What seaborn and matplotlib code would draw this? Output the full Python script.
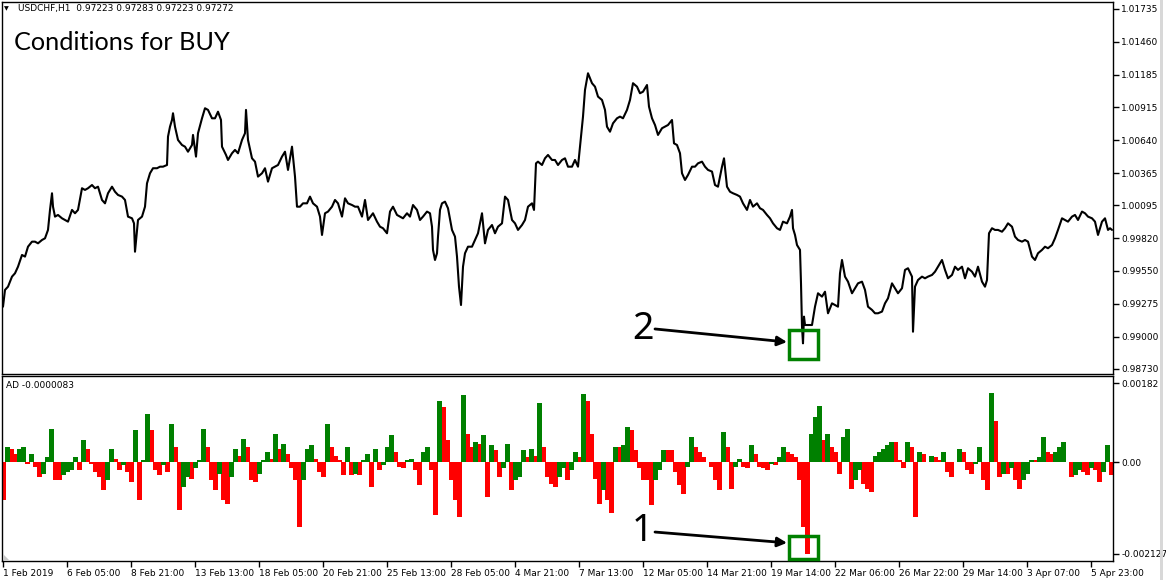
import numpy as np
import pandas as pd
import matplotlib
matplotlib.use("Agg")
import matplotlib.pyplot as plt
from matplotlib.patches import Rectangle, Polygon
import seaborn as sns

# ---------------- data ----------------
price_bar = [0, 2, 5, 9, 12, 15, 19, 22, 25, 29, 32, 35, 39, 42, 45, 47, 49, 50, 52, 55, 59, 62, 65, 69, 72, 75,
             79, 82, 85, 89, 92, 95, 99, 102, 105, 109, 112, 115, 119, 122, 125, 129, 131, 132, 135, 139, 142, 144,
             147, 150, 154, 157, 160, 164, 165, 167, 169, 170, 172, 175, 179, 182, 185, 189, 190, 193, 195, 199, 202,
             205, 209, 212, 215, 218, 219, 223, 225, 229, 232, 235, 239, 242, 243, 245, 249, 252, 255, 259, 262, 265,
             269, 272, 275, 279, 282, 285, 289, 292, 294, 297, 300, 304, 307, 310, 314, 317, 319, 322, 325, 329, 332,
             335, 339, 342, 345, 349, 352, 355, 359, 362, 365,
             370, 374, 377, 380, 384, 387, 390, 394, 397, 400, 404, 407, 410, 414, 417, 420, 424, 427, 429, 430, 432,
             434, 435, 437, 439, 442, 445, 449, 452, 454, 456, 458, 460, 462, 465, 469, 472, 475, 479, 482, 485, 489,
             492, 495, 499, 502, 505, 509, 512, 515, 519, 522, 525, 529, 531, 533, 535, 539, 542, 545, 549, 552, 555,
             559, 562, 565, 569, 572, 575, 578, 580, 582, 585, 589, 592, 595, 599, 602, 604, 607, 610, 614, 617, 620,
             624, 627, 630, 634, 637, 640, 644, 646, 649, 652, 655, 659, 662, 665, 669, 671, 674, 677, 679, 682, 685,
             689, 692, 695, 699, 702, 705, 709, 712, 715, 719, 721, 724, 727, 730, 734, 737, 740, 744,
             747, 750, 754, 757, 760, 764, 767, 770, 774, 777, 780, 784, 787, 789, 790, 792, 794, 795, 797, 798, 799,
             800, 801, 802, 805, 809, 812, 815, 819, 822, 825, 829, 832, 835, 837, 839, 842, 845, 849, 852, 855, 859,
             862, 865, 869, 872, 875, 879, 882, 885, 889, 892, 895, 899, 902, 905, 909, 910, 912, 915, 919, 922, 925,
             929, 932, 935, 939, 942, 945, 949, 952, 955, 959, 962, 965, 969, 972, 975, 979, 982, 984, 986, 989, 992,
             995, 999, 1002, 1005, 1009, 1012, 1015, 1019, 1022, 1025, 1029, 1032, 1035, 1039, 1042, 1045, 1049, 1052,
             1055, 1059, 1062, 1065, 1069, 1072, 1075, 1079, 1082, 1085, 1089, 1092, 1095, 1099, 1102, 1105, 1107, 1109]

price_close = [0.99249, 0.99389, 0.99416, 0.99500, 0.99528, 0.99583, 0.99681, 0.99667, 0.99750, 0.99792, 0.99792,
               0.99778, 0.99806, 0.99820, 0.99890, 1.00057, 1.00196, 1.00084, 1.00001, 1.00015, 0.99987, 0.99973,
               0.99959, 1.00057, 1.00029, 1.00057, 1.00238, 1.00224, 1.00238, 1.00265, 1.00238, 1.00251, 1.00140,
               1.00112, 1.00196, 1.00251, 1.00209, 1.00182, 1.00168, 1.00140, 1.00001, 0.99987, 0.99945, 0.99708,
               0.99973, 1.00001, 1.00084, 1.00279, 1.00363, 1.00405, 1.00405, 1.00418, 1.00418, 1.00432, 1.00669,
               1.00752, 1.00808, 1.00864, 1.00752, 1.00641, 1.00599, 1.00585, 1.00543, 1.00599, 1.00683, 1.00502,
               1.00697, 1.00822, 1.00906, 1.00892, 1.00822, 1.00822, 1.00877, 1.00808, 1.00585, 1.00516, 1.00474,
               1.00530, 1.00558, 1.00530, 1.00641, 1.00697, 1.00892, 1.00641, 1.00488, 1.00460, 1.00335, 1.00363,
               1.00405, 1.00293, 1.00405, 1.00418, 1.00432, 1.00502, 1.00543, 1.00391, 1.00585, 1.00335, 1.00084,
               1.00084, 1.00112, 1.00112, 1.00168, 1.00112, 1.00084, 1.00001, 0.99848, 1.00029, 1.00043, 1.00084,
               1.00140, 1.00112, 1.00001, 1.00154, 1.00112, 1.00098, 1.00084, 1.00084, 1.00001, 1.00140, 0.99973,
               1.00029, 0.99959, 0.99917, 0.99904, 0.99862, 1.00043, 1.00084, 1.00015, 1.00001, 0.99987, 1.00029,
               1.00001, 1.00098, 1.00057, 0.99973, 1.00001, 1.00043, 1.00029, 0.99917, 0.99723, 0.99639, 0.99695,
               0.99834, 1.00057, 1.00112, 1.00126, 1.00071, 0.99890, 0.99834, 0.99667, 0.99416, 0.99263, 0.99583,
               0.99695, 0.99750, 0.99750, 0.99806, 0.99862, 1.00029, 0.99778, 0.99890, 0.99931, 0.99862, 0.99917,
               0.99945, 1.00168, 1.00140, 0.99973, 0.99945, 0.99890, 0.99931, 0.99973, 1.00084, 1.00112, 1.00057,
               1.00446, 1.00460, 1.00432, 1.00488, 1.00516, 1.00474, 1.00474, 1.00432, 1.00474, 1.00488, 1.00418,
               1.00418, 1.00474, 1.00418, 1.00669, 1.00836, 1.01059, 1.01198, 1.01115, 1.01086, 1.01003, 1.00975,
               1.00892, 1.00752, 1.00710, 1.00780, 1.00822, 1.00836, 1.00822, 1.00892, 1.00975, 1.01115, 1.01086,
               1.01031, 1.01044, 1.01100, 1.00919, 1.00822, 1.00766, 1.00683, 1.00739, 1.00752, 1.00766, 1.00808,
               1.00613, 1.00599, 1.00530, 1.00363, 1.00307, 1.00349, 1.00418, 1.00418, 1.00446, 1.00460, 1.00418,
               1.00391, 1.00377, 1.00265, 1.00251, 1.00418, 1.00488, 1.00251, 1.00209, 1.00196, 1.00182, 1.00168,
               1.00112, 1.00057,
               1.00140, 1.00084, 1.00112, 1.00071, 1.00057, 1.00015, 0.99987, 0.99945, 0.99904, 0.99890, 0.99959,
               0.99945, 1.00001, 1.00057, 0.99904, 0.99848, 0.99764, 0.99750, 0.99723, 0.99444, 0.99082, 0.98943,
               0.99166, 0.99096, 0.99096, 0.99096, 0.99249, 0.99361, 0.99333, 0.99374, 0.99194, 0.99277, 0.99263,
               0.99249, 0.99528, 0.99639, 0.99500, 0.99458, 0.99361, 0.99403, 0.99444, 0.99458, 0.99389, 0.99249,
               0.99222, 0.99194, 0.99194, 0.99208, 0.99277, 0.99319, 0.99444, 0.99403, 0.99361, 0.99403, 0.99556,
               0.99570, 0.99500, 0.99040, 0.99416, 0.99472, 0.99500, 0.99486, 0.99500, 0.99514, 0.99541, 0.99583,
               0.99639, 0.99556, 0.99486, 0.99514, 0.99583, 0.99556, 0.99583, 0.99486, 0.99570, 0.99541, 0.99500,
               0.99583, 0.99458, 0.99416, 0.99472, 0.99862, 0.99904, 0.99890, 0.99890, 0.99875, 0.99904, 0.99945,
               0.99917, 0.99834, 0.99806, 0.99792, 0.99806, 0.99792, 0.99667, 0.99639, 0.99695, 0.99723, 0.99750,
               0.99737, 0.99764, 0.99820, 0.99890, 0.99987, 0.99973, 0.99959, 1.00001, 1.00015, 0.99973, 1.00043,
               1.00029, 1.00001, 0.99987, 0.99959, 0.99848, 0.99959, 0.99987, 0.99890, 0.99904, 0.99890]

ad_bar = list(range(0, 1112, 4))
ad_value = [-0.00089, 0.00035, 0.00031, 0.00019, 0.00031, 0.00035, -0.00004, 0.00019, -0.00012, -0.00035,
            -0.00027, 0.00012, 0.00077, -0.00042, -0.00042, -0.00031, -0.00023, -0.00019, 0.00012, -0.00019,
            0.00050, 0.00031, -0.00004, -0.00023, -0.00035, -0.00065, -0.00042, 0.00031, 0.00008, -0.00019,
            -0.00008, -0.00023, -0.00046, 0.00073, -0.00089, 0.00004, 0.00112, 0.00073, -0.00019, -0.00031,
            -0.00008, -0.00023, 0.00089, 0.00035, -0.00112, -0.00058, -0.00035, -0.00039, -0.00015, 0.00004,
            0.00077, 0.00035, -0.00042, -0.00065, -0.00027, -0.00089, -0.00096, -0.00035, 0.00031, 0.00015,
            0.00054, 0.00035, -0.00042, -0.00046, -0.00027, 0.00004, 0.00023, 0.00008, 0.00065, 0.00031,
            0.00042, 0.00019, -0.00015, -0.00042, -0.00150, -0.00042, 0.00031, 0.00039, 0.00008, -0.00023,
            -0.00035, 0.00089, 0.00035, 0.00015, 0.00004, -0.00031, 0.00035, -0.00031, -0.00027, -0.00031,
            0.00004, 0.00019, -0.00058, 0.00031, -0.00019, -0.00008, 0.00035, 0.00062, 0.00023, -0.00012,
            -0.00015, 0.00004, 0.00008, -0.00019, -0.00054, 0.00023, 0.00035, -0.00019, -0.00123, 0.00142,
            0.00127, 0.00050, -0.00042, -0.00089, -0.00127, 0.00154, 0.00065, 0.00035, 0.00046, 0.00042,
            0.00062, -0.00081, 0.00039, 0.00027, -0.00035, -0.00015, 0.00042, -0.00065, -0.00042, -0.00035,
            0.00027, 0.00012, 0.00031, 0.00015, 0.00136, 0.00035, -0.00035, -0.00050, -0.00058, -0.00035,
            -0.00015, -0.00042, -0.00019, 0.00023, 0.00012, 0.00158, 0.00142, 0.00065, -0.00039, -0.00096,
            -0.00065, -0.00089, -0.00119, 0.00035, 0.00035, 0.00039, 0.00081, 0.00073, 0.00027, -0.00015,
            -0.00042, -0.00042, -0.00100, -0.00042, -0.00019, 0.00027, 0.00027, 0.00027, -0.00023, -0.00054,
            -0.00073, -0.00012, 0.00058, 0.00035, 0.00023, 0.00012, 0.00000, -0.00012, -0.00042, -0.00065,
            0.00069, 0.00035, -0.00062, -0.00012, 0.00008, -0.00012, -0.00015, 0.00039, 0.00019, -0.00012,
            -0.00015, -0.00019, -0.00004, -0.00008, 0.00012, 0.00035, 0.00023, 0.00019, 0.00012, -0.00042,
            -0.00150, -0.00212, 0.00065, 0.00104, 0.00129, 0.00050, 0.00065, 0.00035, 0.00023, -0.00027,
            0.00058, 0.00077, -0.00062, -0.00042, -0.00019, -0.00050, -0.00062, -0.00069, 0.00015, 0.00023,
            0.00031, 0.00039, 0.00046, 0.00046, 0.00004, -0.00015, 0.00046, 0.00035, -0.00127, 0.00023,
            0.00019, 0.00000, 0.00015, 0.00012, 0.00004, 0.00023, -0.00023, -0.00035, 0.00000, 0.00031,
            0.00023, -0.00019, -0.00027, -0.00004, 0.00035, -0.00042, -0.00065, 0.00159, 0.00096, -0.00035,
            -0.00027, -0.00027, -0.00015, -0.00042, -0.00062, -0.00042, -0.00027, 0.00004, 0.00004, 0.00012,
            0.00058, 0.00023, 0.00019, 0.00023, 0.00035, 0.00046, 0.00000, -0.00035, -0.00031, -0.00019,
            -0.00023, -0.00031, -0.00015, -0.00019, -0.00046, -0.00023, 0.00039, -0.00031]

date_tick_bar = [0, 64, 128, 192, 256, 320, 384, 448, 512, 576, 640, 704, 768, 832, 896, 960, 1024, 1088]
date_tick_label = ["1 Feb 2019", "6 Feb 05:00", "8 Feb 21:00", "13 Feb 13:00", "18 Feb 05:00", "20 Feb 21:00",
                   "25 Feb 13:00", "28 Feb 05:00", "4 Mar 21:00", "7 Mar 13:00", "12 Mar 05:00", "14 Mar 21:00",
                   "19 Mar 14:00", "22 Mar 06:00", "26 Mar 22:00", "29 Mar 14:00", "3 Apr 07:00", "5 Apr 23:00"]
price_ticks = [1.01735, 1.01460, 1.01185, 1.00915, 1.00640, 1.00365, 1.00095, 0.99820, 0.99550, 0.99275,
               0.99000, 0.98730]
ad_ticks = [0.00182, 0.0, -0.002127]
ad_tick_label = ["0.00182", "0.00", "-0.002127"]

# ---------------- figure ----------------
sns.set_style("white")
plt.rcParams['font.family'] = ['DejaVu Sans']

W, H = 1166, 580
fig = plt.figure(figsize=(W / 100, H / 100), dpi=100)
fig.patch.set_facecolor("white")

def fx(px):
    return px / W

def fy(py):
    return 1 - py / H

ax1 = fig.add_axes([fx(2), fy(374), fx(1113) - fx(2), fy(2) - fy(374)])
ax2 = fig.add_axes([fx(2), fy(561), fx(1113) - fx(2), fy(376) - fy(561)])

price_df = pd.DataFrame({"bar": price_bar, "price": price_close})
sns.lineplot(data=price_df, x="bar", y="price", estimator=None, sort=False,
             color="black", linewidth=1.5, ax=ax1)

ad_df = pd.DataFrame({"bar": ad_bar, "ad": ad_value})
diff = ad_df["ad"].diff().fillna(-1)
ad_df["dir"] = np.where(diff > 0, "up", "down")
sns.barplot(data=ad_df, x="bar", y="ad", hue="dir", palette={"up": "#008000", "down": "#ff0000"},
            native_scale=True, dodge=False, width=1.25, saturation=1, errorbar=None,
            legend=False, linewidth=0, antialiased=False, ax=ax2)

for ax in (ax1, ax2):
    ax.set_xlim(-1, 1110)
    ax.set_xlabel("")
    ax.set_ylabel("")
    for s in ax.spines.values():
        s.set_visible(True)
        s.set_color("black")
        s.set_linewidth(1)
    ax.yaxis.tick_right()
    ax.tick_params(axis="y", which="both", direction="out", length=4, width=1, color="black",
                   labelsize=6.5, pad=2, labelcolor="black", right=True, left=False)

ax1.set_ylim(0.98687, 1.01793)
ax1.set_yticks(price_ticks)
ax1.set_yticklabels([f"{v:.5f}" for v in price_ticks])
ax1.set_xticks([])

ax2.set_ylim(-0.00229, 0.00199)
ax2.set_yticks(ad_ticks)
ax2.set_yticklabels(ad_tick_label)
ax2.set_xticks(date_tick_bar)
ax2.set_xticklabels(date_tick_label)
ax2.tick_params(axis="x", direction="out", length=4, width=1, color="black",
                labelsize=6.5, pad=2, labelcolor="black", bottom=True)
for lab in ax2.get_xticklabels():
    lab.set_ha("left")

# ---------------- texts ----------------
fig.text(fx(4), fy(9), "\u25BC", fontsize=4.5, va="center", ha="left", color="black")
fig.text(fx(18), fy(9), "USDCHF,H1  0.97223 0.97283 0.97223 0.97272", fontsize=6.5,
         va="center", ha="left", color="black")
fig.text(fx(14), fy(42), "Conditions for BUY", fontsize=18.2, va="center", ha="left",
         color="black", family=["Lato", "DejaVu Sans"])
fig.text(fx(6), fy(385), "AD -0.0000083", fontsize=6.5, va="center", ha="left", color="black")

# ---------------- annotations ----------------
green = "#008000"
ax1.add_patch(Rectangle((786, 0.98812), 29, 0.99055 - 0.98812, fill=False, edgecolor=green, linewidth=2.5,
                        clip_on=False, zorder=5))
ax1.annotate("", xy=(784, 0.98954), xytext=(652, 0.99063),
             arrowprops=dict(arrowstyle="-|>", color="black", lw=2, mutation_scale=14,
                             shrinkA=0, shrinkB=0))
ax1.text(640, 0.99063, "2", fontsize=27, ha="center", va="center", color="black",
         family=["Noto Sans", "DejaVu Sans"])

ax2.add_patch(Rectangle((786, -0.00224), 29, 0.00053, fill=False, edgecolor=green, linewidth=2.5,
                        clip_on=False, zorder=5))
ax2.annotate("", xy=(784, -0.00187), xytext=(652, -0.00162),
             arrowprops=dict(arrowstyle="-|>", color="black", lw=2, mutation_scale=14,
                             shrinkA=0, shrinkB=0))
ax2.text(639, -0.00159, "1", fontsize=27, ha="center", va="center", color="black",
         family=["Noto Sans", "DejaVu Sans"])

# small grey corner marker and right-hand scrollbar strip
fig.patches.append(Polygon([[fx(3), fy(554)], [fx(3), fy(560)], [fx(9), fy(560)]], closed=True,
                           transform=fig.transFigure, facecolor="#c8c8c8", edgecolor="none"))
fig.patches.append(Rectangle((fx(1160), 0), fx(3), 1, transform=fig.transFigure,
                             facecolor="#d8d8d8", edgecolor="none"))

fig.savefig("out.png", dpi=100, facecolor="white")
